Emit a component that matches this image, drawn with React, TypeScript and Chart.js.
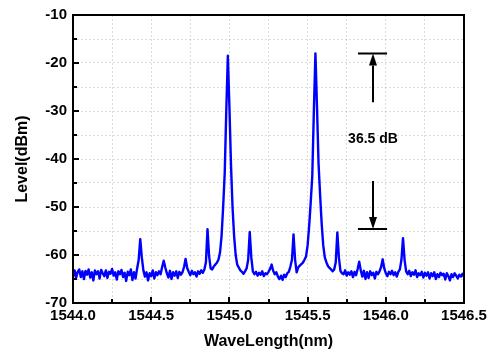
import { useEffect, useRef } from "react";
import { Chart, registerables } from "chart.js";

Chart.register(...registerables);

// Spectrum sampled every 0.01 nm from 1544.00 nm
const wavelengthStart = 1544.0;
const wavelengthStep = 0.01;
const levels = [
  -64.5, -63.2, -64.8, -63.5, -63.0, -64.6, -63.4, -65.0, -63.3, -64.1,
  -63.0, -64.7, -63.6, -65.3, -63.2, -64.0, -63.4, -64.9, -63.1, -63.8,
  -64.4, -63.2, -64.8, -63.5, -63.9, -62.9, -64.3, -63.6, -65.1, -63.4,
  -64.0, -63.1, -64.6, -63.7, -65.4, -63.5, -64.2, -63.0, -65.2, -63.6,
  -64.9, -62.8, -61.0, -56.7, -60.5, -63.2, -64.5, -63.6, -65.3, -63.8,
  -64.4, -63.2, -64.9, -63.6, -64.2, -63.4, -64.0, -62.5, -61.2, -62.6,
  -63.8, -64.7, -63.3, -65.0, -63.6, -64.3, -63.4, -64.8, -63.5, -64.1,
  -63.6, -62.5, -60.8, -62.7, -63.5, -64.2, -63.3, -64.0, -63.6, -64.5,
  -63.4, -63.9, -63.2, -63.7, -63.0, -61.5, -54.6, -60.2, -62.8, -63.0,
  -62.4, -62.0, -61.6, -61.0, -59.5, -56.0, -50.0, -43.0, -30.0, -18.5,
  -29.0, -41.0, -50.0, -56.0, -60.0, -62.0, -62.6, -63.2, -63.5, -63.9,
  -63.4, -62.8, -61.0, -55.2, -60.5, -63.4, -64.0, -63.5, -64.3, -63.7,
  -64.1, -63.4, -64.4, -63.8, -64.0, -63.5, -62.9, -62.0, -63.3, -64.0,
  -63.6, -64.5, -65.0, -64.3, -65.2, -64.1, -64.6, -63.8, -63.5, -62.4,
  -61.0, -55.7, -61.0, -63.6, -62.6, -62.2, -61.9, -61.6, -61.0, -60.3,
  -58.0, -54.0, -49.0, -43.5, -30.0, -18.0, -29.0, -41.0, -47.5, -53.5,
  -58.0, -60.5, -61.5, -62.3, -62.7, -63.0, -63.4, -63.0, -61.5, -55.3,
  -60.5, -63.3, -63.8, -64.0, -63.2, -64.3, -63.6, -64.1, -63.4, -64.6,
  -63.5, -64.2, -62.9, -61.4, -63.2, -64.5, -63.3, -65.0, -63.6, -64.8,
  -63.4, -64.2, -63.7, -64.9, -63.5, -64.0, -63.4, -62.5, -60.9, -62.8,
  -63.8, -64.4, -63.5, -64.0, -63.3, -64.2, -63.6, -64.5, -63.5, -63.0,
  -61.0, -56.5, -61.0, -63.4, -64.0, -63.3, -64.4, -63.6, -64.1, -63.2,
  -64.6, -63.8, -64.2, -63.5, -64.7, -63.7, -64.3, -63.6, -64.9, -63.8,
  -64.4, -63.6, -65.0, -64.0, -64.6, -63.7, -64.2, -63.9, -65.1, -63.8,
  -64.4, -65.3, -64.0, -64.6, -63.8, -64.3, -64.9, -64.1, -64.5, -63.9,
  -64.6,
];

// Axes
const xMin = 1544.0;
const xMax = 1546.5;
const xGridStep = 0.25;
const xLabelStep = 0.5;
const yMin = -70;
const yMax = -10;
const yGridStep = 5;
const yLabelStep = 10;
const xTitle = "WaveLength(nm)";
const yTitle = "Level(dBm)";

// Annotation (extinction ratio)
const annotationWavelength = 1545.915;
const annotationHalfSpan = 0.093;
const upperBarLevel = -18.0;
const upperArrowTail = -28.2;
const lowerBarLevel = -54.6;
const lowerArrowTail = -44.6;
const annotationLabelLevel = -35.8;
const annotationLabel = "36.5 dB";

const FONT = '"Liberation Sans", Arial, sans-serif';

const isMultiple = (v: number, step: number) =>
  Math.abs(v / step - Math.round(v / step)) < 1e-6;

const framePlugin = {
  id: "frameAndTicks",
  afterDatasetsDraw(chart: any) {
    const { ctx, chartArea } = chart;
    const { left, right, top, bottom } = chartArea;
    const xs = chart.scales.x;
    const ys = chart.scales.y;
    ctx.save();
    ctx.strokeStyle = "#000";
    ctx.lineWidth = 2;
    ctx.lineCap = "butt";
    ctx.beginPath();
    xs.ticks.forEach((t: any) => {
      const px = Math.round(xs.getPixelForValue(t.value));
      const len = isMultiple(t.value - xMin, xLabelStep) ? 6 : 4;
      ctx.moveTo(px, bottom);
      ctx.lineTo(px, bottom - len);
    });
    ys.ticks.forEach((t: any) => {
      const py = Math.round(ys.getPixelForValue(t.value));
      const len = isMultiple(t.value, yLabelStep) ? 6 : 4;
      ctx.moveTo(left, py);
      ctx.lineTo(left + len, py);
    });
    ctx.stroke();
    ctx.strokeRect(left, top, right - left, bottom - top);
    ctx.restore();
  },
};

const annotationPlugin = {
  id: "annotationArrows",
  afterDatasetsDraw(chart: any) {
    const { ctx } = chart;
    const xs = chart.scales.x;
    const ys = chart.scales.y;
    const cx = Math.round(xs.getPixelForValue(annotationWavelength));
    const x0 = xs.getPixelForValue(annotationWavelength - annotationHalfSpan);
    const x1 = xs.getPixelForValue(annotationWavelength + annotationHalfSpan);
    const yTop = ys.getPixelForValue(upperBarLevel);
    const yTopTail = ys.getPixelForValue(upperArrowTail);
    const yBot = ys.getPixelForValue(lowerBarLevel);
    const yBotTail = ys.getPixelForValue(lowerArrowTail);
    const headLen = 12;
    const headHalf = 4;
    ctx.save();
    ctx.strokeStyle = "#000";
    ctx.fillStyle = "#000";
    ctx.lineWidth = 2;
    ctx.beginPath();
    ctx.moveTo(x0, yTop);
    ctx.lineTo(x1, yTop);
    ctx.moveTo(cx, yTopTail);
    ctx.lineTo(cx, yTop + headLen);
    ctx.moveTo(x0, yBot);
    ctx.lineTo(x1, yBot);
    ctx.moveTo(cx, yBotTail);
    ctx.lineTo(cx, yBot - headLen);
    ctx.stroke();
    ctx.beginPath();
    ctx.moveTo(cx, yTop);
    ctx.lineTo(cx - headHalf, yTop + headLen);
    ctx.lineTo(cx + headHalf, yTop + headLen);
    ctx.closePath();
    ctx.fill();
    ctx.beginPath();
    ctx.moveTo(cx, yBot);
    ctx.lineTo(cx - headHalf, yBot - headLen);
    ctx.lineTo(cx + headHalf, yBot - headLen);
    ctx.closePath();
    ctx.fill();
    ctx.font = `bold 14px ${FONT}`;
    ctx.textAlign = "center";
    ctx.textBaseline = "middle";
    ctx.fillText(annotationLabel, cx, ys.getPixelForValue(annotationLabelLevel));
    ctx.restore();
  },
};

export default function App() {
  const canvasRef = useRef<HTMLCanvasElement | null>(null);

  useEffect(() => {
    document.body.style.margin = "0";
    const canvas = canvasRef.current;
    if (!canvas) return;
    const points = levels.map((lv, i) => ({
      x: wavelengthStart + i * wavelengthStep,
      y: lv,
    }));
    const gridOpts = {
      color: "rgba(0,0,0,0.14)",
      lineWidth: 1,
      drawTicks: false,
    };
    const chart = new Chart(canvas, {
      type: "line",
      data: {
        datasets: [
          {
            data: points,
            borderColor: "#0000ff",
            borderWidth: 2.4,
            pointRadius: 0,
            tension: 0,
            fill: false,
            borderJoinStyle: "round",
          },
        ],
      },
      options: {
        animation: false,
        responsive: false,
        parsing: false,
        layout: { padding: { left: 0, right: 30, top: 14, bottom: 0 } },
        plugins: {
          legend: { display: false },
          tooltip: { enabled: false },
        },
        scales: {
          x: {
            type: "linear",
            min: xMin,
            max: xMax,
            afterFit: (s: any) => {
              s.height = 55;
            },
            border: { display: false, dash: [2, 2] },
            grid: gridOpts,
            ticks: {
              stepSize: xGridStep,
              autoSkip: false,
              maxRotation: 0,
              padding: 4,
              color: "#000",
              font: { family: FONT, size: 15, weight: "bold" },
              callback: (v: any) =>
                isMultiple(Number(v) - xMin, xLabelStep) ? Number(v).toFixed(1) : "",
            },
            title: {
              display: true,
              text: xTitle,
              color: "#000",
              font: { family: FONT, size: 16, weight: "bold" },
              padding: { top: 0, bottom: 7 },
            },
          },
          y: {
            type: "linear",
            min: yMin,
            max: yMax,
            afterFit: (s: any) => {
              s.width = 73;
            },
            border: { display: false, dash: [2, 2] },
            grid: gridOpts,
            ticks: {
              stepSize: yGridStep,
              autoSkip: false,
              padding: 6,
              color: "#000",
              font: { family: FONT, size: 15, weight: "bold" },
              callback: (v: any) =>
                isMultiple(Number(v), yLabelStep) ? String(Number(v)) : "",
            },
            title: {
              display: true,
              text: yTitle,
              color: "#000",
              font: { family: FONT, size: 16, weight: "bold" },
              padding: { top: 13, bottom: 0 },
            },
          },
        },
      },
      plugins: [framePlugin, annotationPlugin],
    } as any);
    return () => chart.destroy();
  }, []);

  return (
    <div style={{ width: 494, height: 358, background: "#fff" }}>
      <canvas ref={canvasRef} width={494} height={358} style={{ display: "block" }} />
    </div>
  );
}
